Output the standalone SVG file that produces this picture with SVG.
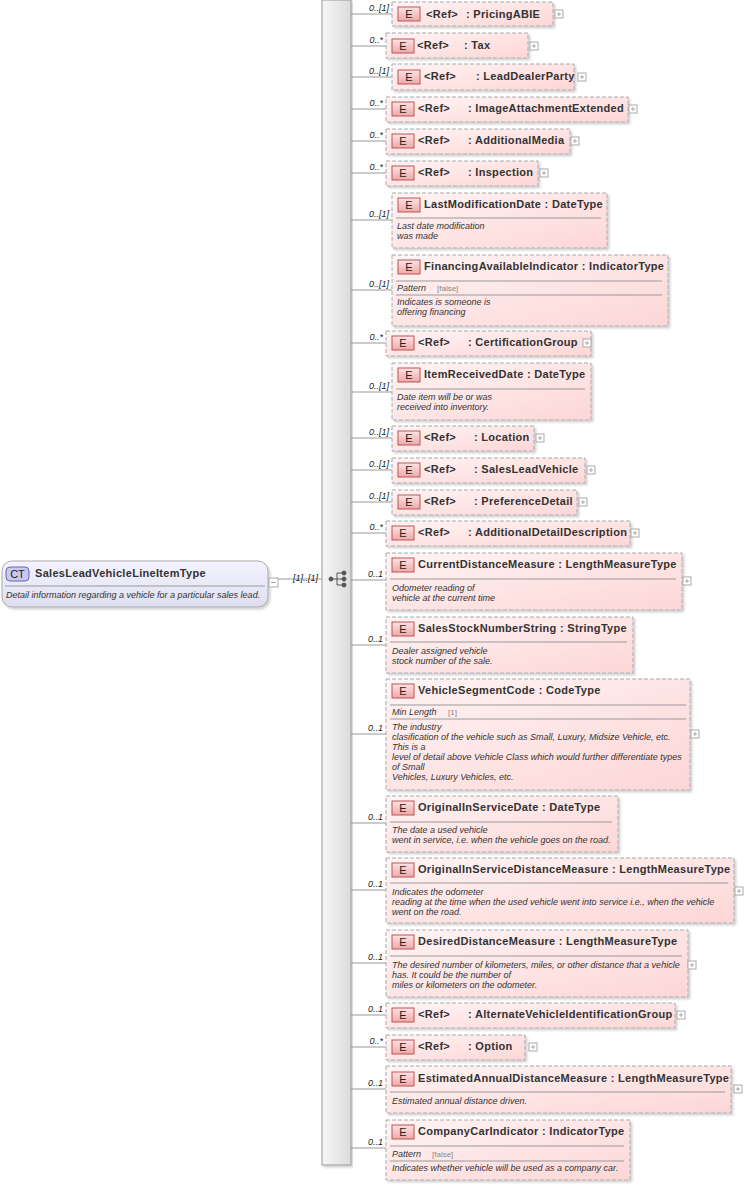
<svg xmlns="http://www.w3.org/2000/svg" width="744" height="1186" viewBox="0 0 744 1186">
<defs>
<linearGradient id="gE" x1="0" y1="0" x2="1" y2="1"><stop offset="0" stop-color="#fff4f4"/><stop offset="1" stop-color="#fdd6d6"/></linearGradient>
<linearGradient id="gB" x1="0" y1="0" x2="0" y2="1"><stop offset="0" stop-color="#fde3e3"/><stop offset="1" stop-color="#f0a8a8"/></linearGradient>
<linearGradient id="gCT" x1="0" y1="0" x2="0" y2="1"><stop offset="0" stop-color="#f4f4ff"/><stop offset="1" stop-color="#dedef0"/></linearGradient>
<linearGradient id="gBar" x1="0" y1="0" x2="1" y2="0"><stop offset="0" stop-color="#f6f6f6"/><stop offset="1" stop-color="#dcdcdc"/></linearGradient>
<filter id="sh" x="-5%" y="-5%" width="110%" height="120%"><feDropShadow dx="2" dy="2" stdDeviation="1.2" flood-color="#000" flood-opacity="0.18"/></filter>
</defs>
<style>
.box{fill:url(#gE);stroke:#aaa;stroke-dasharray:4 2;filter:url(#sh)}
.bad{fill:url(#gB);stroke:#b55}
.bt{font:11px "Liberation Sans",Arial,sans-serif;fill:#222;text-anchor:middle}
.nm{font:bold 11px "Liberation Sans",Arial,sans-serif;fill:#333;letter-spacing:0.3px}
.doc{font:italic 9px "Liberation Sans",Arial,sans-serif;fill:#333}
.fac{font:8px "Liberation Sans",Arial,sans-serif;fill:#888}
.mul{font:italic 9px "Liberation Sans",Arial,sans-serif;fill:#222;text-anchor:end}
.sep{stroke:#999;stroke-width:1}
.ln{stroke:#999;stroke-width:1;fill:none}
.pl{fill:#fff;stroke:#aaa}
.plc{stroke:#aaa}
</style>
<g id="bar"><rect x="322" y="0" width="29" height="1165" fill="url(#gBar)" stroke="#999" filter="url(#sh)"/></g>
<g id="connectors">
<line class="ln" x1="278" y1="579" x2="322" y2="579"/>
<text class="mul" x="318" y="581">[1]..[1]</text>
<g fill="#555" stroke="#555"><line x1="331" y1="579" x2="337" y2="579"/><line x1="337" y1="573" x2="337" y2="585"/><line x1="337" y1="573" x2="343" y2="573"/><line x1="337" y1="579" x2="343" y2="579"/><line x1="337" y1="585" x2="343" y2="585"/><circle cx="331" cy="579" r="2"/><circle cx="344" cy="573" r="2"/><circle cx="344" cy="579" r="2"/><circle cx="344" cy="585" r="2"/></g>
<path class="ln" d="M351 14H392M351 46H386M351 77H392M351 109H386M351 141H386M351 173H386M351 220H392M351 290H392M351 343H386M351 392H392M351 438H392M351 470H392M351 502H392M351 533H386M351 580H386M351 645H386M351 734H386M351 823H386M351 890H386M351 963H386M351 1015H386M351 1047H386M351 1089H386M351 1148H386"/>
<text class="mul" x="389" y="11">0..[1]</text>
<text class="mul" x="383" y="43">0..*</text>
<text class="mul" x="389" y="74">0..[1]</text>
<text class="mul" x="383" y="106">0..*</text>
<text class="mul" x="383" y="138">0..*</text>
<text class="mul" x="383" y="170">0..*</text>
<text class="mul" x="389" y="217">0..[1]</text>
<text class="mul" x="389" y="287">0..[1]</text>
<text class="mul" x="383" y="340">0..*</text>
<text class="mul" x="389" y="389">0..[1]</text>
<text class="mul" x="389" y="435">0..[1]</text>
<text class="mul" x="389" y="467">0..[1]</text>
<text class="mul" x="389" y="499">0..[1]</text>
<text class="mul" x="383" y="530">0..*</text>
<text class="mul" x="383" y="577">0..1</text>
<text class="mul" x="383" y="642">0..1</text>
<text class="mul" x="383" y="731">0..1</text>
<text class="mul" x="383" y="820">0..1</text>
<text class="mul" x="383" y="887">0..1</text>
<text class="mul" x="383" y="960">0..1</text>
<text class="mul" x="383" y="1012">0..1</text>
<text class="mul" x="383" y="1044">0..*</text>
<text class="mul" x="383" y="1086">0..1</text>
<text class="mul" x="383" y="1145">0..1</text>
</g>
<g id="root">
<rect x="2" y="561" width="266" height="46" rx="10" fill="url(#gCT)" stroke="#aaa" filter="url(#sh)"/>
<rect x="6" y="567" width="23" height="14" rx="4" fill="#c8c8f0" stroke="#66a"/>
<text class="bt" x="17.5" y="578" fill="#336">CT</text>
<text class="nm" x="35" y="577">SalesLeadVehicleLineItemType</text>
<line class="sep" x1="5" y1="586" x2="265" y2="586"/>
<text class="doc" x="6" y="598">Detail information regarding a vehicle for a particular sales lead.</text>
<rect x="269" y="578" width="9" height="9" class="pl"/><line class="plc" x1="271" y1="582.5" x2="276" y2="582.5"/>
</g>
<g id="n1"><rect class="box" x="392" y="2" width="161" height="24"/><rect class="bad" x="398" y="7" width="22" height="14"/><text class="bt" x="409" y="18">E</text><text class="nm" x="426" y="18">&lt;Ref&gt;</text><text class="nm" x="466" y="18">: PricingABIE</text><rect class="pl" x="555" y="10" width="8" height="8"/><path class="plc" d="M557 14h4M559 12v4"/></g>
<g id="n2"><rect class="box" x="386" y="33" width="142" height="25"/><rect class="bad" x="392" y="39" width="22" height="14"/><text class="bt" x="403" y="50">E</text><text class="nm" x="417" y="49">&lt;Ref&gt;</text><text class="nm" x="464" y="49">: Tax</text><rect class="pl" x="530" y="42" width="8" height="8"/><path class="plc" d="M532 46h4M534 44v4"/></g>
<g id="n3"><rect class="box" x="392" y="64" width="182" height="26"/><rect class="bad" x="398" y="70" width="22" height="14"/><text class="bt" x="409" y="81">E</text><text class="nm" x="424" y="80">&lt;Ref&gt;</text><text class="nm" x="476" y="80">: LeadDealerParty</text><rect class="pl" x="578" y="73" width="8" height="8"/><path class="plc" d="M580 77h4M582 75v4"/></g>
<g id="n4"><rect class="box" x="386" y="97" width="242" height="25"/><rect class="bad" x="392" y="102" width="22" height="14"/><text class="bt" x="403" y="113">E</text><text class="nm" x="418" y="112">&lt;Ref&gt;</text><text class="nm" x="468" y="112">: ImageAttachmentExtended</text><rect class="pl" x="629" y="105" width="8" height="8"/><path class="plc" d="M631 109h4M633 107v4"/></g>
<g id="n5"><rect class="box" x="386" y="129" width="184" height="25"/><rect class="bad" x="392" y="134" width="22" height="14"/><text class="bt" x="403" y="145">E</text><text class="nm" x="418" y="144">&lt;Ref&gt;</text><text class="nm" x="468" y="144">: AdditionalMedia</text><rect class="pl" x="571" y="137" width="8" height="8"/><path class="plc" d="M573 141h4M575 139v4"/></g>
<g id="n6"><rect class="box" x="386" y="161" width="152" height="25"/><rect class="bad" x="392" y="166" width="22" height="14"/><text class="bt" x="403" y="177">E</text><text class="nm" x="418" y="176">&lt;Ref&gt;</text><text class="nm" x="468" y="176">: Inspection</text><rect class="pl" x="540" y="169" width="8" height="8"/><path class="plc" d="M542 173h4M544 171v4"/></g>
<g id="n7"><rect class="box" x="392" y="193" width="215" height="55"/><rect class="bad" x="398" y="198" width="22" height="14"/><text class="bt" x="409" y="209">E</text><text class="nm" x="424" y="208">LastModificationDate : DateType</text><line class="sep" x1="396" y1="218" x2="601" y2="218"/><text class="doc" x="397" y="229">Last date modification</text><text class="doc" x="397" y="239">was made</text></g>
<g id="n8"><rect class="box" x="392" y="255" width="276" height="71"/><rect class="bad" x="398" y="260" width="22" height="14"/><text class="bt" x="409" y="271">E</text><text class="nm" x="424" y="270">FinancingAvailableIndicator : IndicatorType</text><line class="sep" x1="396" y1="281" x2="662" y2="281"/><text class="doc" x="397" y="291">Pattern</text><text class="fac" x="437" y="291">[false]</text><line class="sep" x1="396" y1="295" x2="662" y2="295"/><text class="doc" x="397" y="305">Indicates is someone is</text><text class="doc" x="397" y="315">offering financing</text></g>
<g id="n9"><rect class="box" x="386" y="331" width="205" height="25"/><rect class="bad" x="392" y="336" width="22" height="14"/><text class="bt" x="403" y="347">E</text><text class="nm" x="418" y="346">&lt;Ref&gt;</text><text class="nm" x="468" y="346">: CertificationGroup</text><rect class="pl" x="583" y="339" width="8" height="8"/><path class="plc" d="M585 343h4M587 341v4"/></g>
<g id="n10"><rect class="box" x="392" y="363" width="199" height="57"/><rect class="bad" x="398" y="368" width="22" height="14"/><text class="bt" x="409" y="379">E</text><text class="nm" x="424" y="378">ItemReceivedDate : DateType</text><line class="sep" x1="396" y1="389" x2="585" y2="389"/><text class="doc" x="397" y="400">Date item will be or was</text><text class="doc" x="397" y="410">received into inventory.</text></g>
<g id="n11"><rect class="box" x="392" y="426" width="142" height="25"/><rect class="bad" x="398" y="431" width="22" height="14"/><text class="bt" x="409" y="442">E</text><text class="nm" x="424" y="441">&lt;Ref&gt;</text><text class="nm" x="474" y="441">: Location</text><rect class="pl" x="536" y="434" width="8" height="8"/><path class="plc" d="M538 438h4M540 436v4"/></g>
<g id="n12"><rect class="box" x="392" y="458" width="193" height="25"/><rect class="bad" x="398" y="463" width="22" height="14"/><text class="bt" x="409" y="474">E</text><text class="nm" x="424" y="473">&lt;Ref&gt;</text><text class="nm" x="474" y="473">: SalesLeadVehicle</text><rect class="pl" x="587" y="466" width="8" height="8"/><path class="plc" d="M589 470h4M591 468v4"/></g>
<g id="n13"><rect class="box" x="392" y="490" width="185" height="25"/><rect class="bad" x="398" y="495" width="22" height="14"/><text class="bt" x="409" y="506">E</text><text class="nm" x="424" y="505">&lt;Ref&gt;</text><text class="nm" x="474" y="505">: PreferenceDetail</text><rect class="pl" x="579" y="498" width="8" height="8"/><path class="plc" d="M581 502h4M583 500v4"/></g>
<g id="n14"><rect class="box" x="386" y="521" width="244" height="25"/><rect class="bad" x="392" y="526" width="22" height="14"/><text class="bt" x="403" y="537">E</text><text class="nm" x="418" y="536">&lt;Ref&gt;</text><text class="nm" x="468" y="536">: AdditionalDetailDescription</text><rect class="pl" x="631" y="529" width="8" height="8"/><path class="plc" d="M633 533h4M635 531v4"/></g>
<g id="n15"><rect class="box" x="386" y="553" width="296" height="57"/><rect class="bad" x="392" y="558" width="22" height="14"/><text class="bt" x="403" y="569">E</text><text class="nm" x="418" y="568">CurrentDistanceMeasure : LengthMeasureType</text><line class="sep" x1="390" y1="579" x2="676" y2="579"/><text class="doc" x="392" y="591">Odometer reading of</text><text class="doc" x="392" y="601">vehicle at the current time</text><rect class="pl" x="683" y="577" width="8" height="8"/><path class="plc" d="M685 581h4M687 579v4"/></g>
<g id="n16"><rect class="box" x="386" y="617" width="247" height="56"/><rect class="bad" x="392" y="622" width="22" height="14"/><text class="bt" x="403" y="633">E</text><text class="nm" x="418" y="632">SalesStockNumberString : StringType</text><line class="sep" x1="390" y1="642" x2="627" y2="642"/><text class="doc" x="392" y="654">Dealer assigned vehicle</text><text class="doc" x="392" y="664">stock number of the sale.</text></g>
<g id="n17"><rect class="box" x="386" y="679" width="304" height="111"/><rect class="bad" x="392" y="684" width="22" height="14"/><text class="bt" x="403" y="695">E</text><text class="nm" x="418" y="694">VehicleSegmentCode : CodeType</text><line class="sep" x1="390" y1="705" x2="686" y2="705"/><text class="doc" x="392" y="715">Min Length</text><text class="fac" x="448" y="715">[1]</text><line class="sep" x1="390" y1="719" x2="686" y2="719"/><text class="doc" x="392" y="730">The industry</text><text class="doc" x="392" y="740">clasification of the vehicle such as Small, Luxury, Midsize Vehicle, etc.</text><text class="doc" x="392" y="750">This is a</text><text class="doc" x="392" y="760">level of detail above Vehicle Class which would further differentiate types</text><text class="doc" x="392" y="770">of Small</text><text class="doc" x="392" y="780">Vehicles, Luxury Vehicles, etc.</text><rect class="pl" x="691" y="730" width="8" height="8"/><path class="plc" d="M693 734h4M695 732v4"/></g>
<g id="n18"><rect class="box" x="386" y="796" width="232" height="56"/><rect class="bad" x="392" y="801" width="22" height="14"/><text class="bt" x="403" y="812">E</text><text class="nm" x="418" y="811">OriginalInServiceDate : DateType</text><line class="sep" x1="390" y1="822" x2="612" y2="822"/><text class="doc" x="392" y="833">The date a used vehicle</text><text class="doc" x="392" y="843">went in service, i.e. when the vehicle goes on the road.</text></g>
<g id="n19"><rect class="box" x="386" y="858" width="348" height="65"/><rect class="bad" x="392" y="863" width="22" height="14"/><text class="bt" x="403" y="874">E</text><text class="nm" x="418" y="873">OriginalInServiceDistanceMeasure : LengthMeasureType</text><line class="sep" x1="390" y1="883" x2="728" y2="883"/><text class="doc" x="392" y="895">Indicates the odometer</text><text class="doc" x="392" y="905">reading at the time when the used vehicle went into service i.e., when the vehicle</text><text class="doc" x="392" y="915">went on the road.</text><rect class="pl" x="735" y="887" width="8" height="8"/><path class="plc" d="M737 891h4M739 889v4"/></g>
<g id="n20"><rect class="box" x="386" y="930" width="302" height="67"/><rect class="bad" x="392" y="935" width="22" height="14"/><text class="bt" x="403" y="946">E</text><text class="nm" x="418" y="945">DesiredDistanceMeasure : LengthMeasureType</text><line class="sep" x1="390" y1="956" x2="682" y2="956"/><text class="doc" x="392" y="968">The desired number of kilometers, miles, or other distance that a vehicle</text><text class="doc" x="392" y="978">has.  It could be the number of</text><text class="doc" x="392" y="988">miles or kilometers on the odometer.</text><rect class="pl" x="688" y="961" width="8" height="8"/><path class="plc" d="M690 965h4M692 963v4"/></g>
<g id="n21"><rect class="box" x="386" y="1003" width="289" height="25"/><rect class="bad" x="392" y="1008" width="22" height="14"/><text class="bt" x="403" y="1019">E</text><text class="nm" x="418" y="1018">&lt;Ref&gt;</text><text class="nm" x="468" y="1018">: AlternateVehicleIdentificationGroup</text><rect class="pl" x="677" y="1011" width="8" height="8"/><path class="plc" d="M679 1015h4M681 1013v4"/></g>
<g id="n22"><rect class="box" x="386" y="1035" width="139" height="25"/><rect class="bad" x="392" y="1040" width="22" height="14"/><text class="bt" x="403" y="1051">E</text><text class="nm" x="418" y="1050">&lt;Ref&gt;</text><text class="nm" x="468" y="1050">: Option</text><rect class="pl" x="529" y="1043" width="8" height="8"/><path class="plc" d="M531 1047h4M533 1045v4"/></g>
<g id="n23"><rect class="box" x="386" y="1066" width="345" height="47"/><rect class="bad" x="392" y="1072" width="22" height="14"/><text class="bt" x="403" y="1083">E</text><text class="nm" x="418" y="1082">EstimatedAnnualDistanceMeasure : LengthMeasureType</text><line class="sep" x1="390" y1="1092" x2="725" y2="1092"/><text class="doc" x="392" y="1104">Estimated annual distance driven.</text><rect class="pl" x="734" y="1085" width="8" height="8"/><path class="plc" d="M736 1089h4M738 1087v4"/></g>
<g id="n24"><rect class="box" x="386" y="1120" width="244" height="60"/><rect class="bad" x="392" y="1125" width="22" height="14"/><text class="bt" x="403" y="1136">E</text><text class="nm" x="418" y="1135">CompanyCarIndicator : IndicatorType</text><line class="sep" x1="390" y1="1146" x2="624" y2="1146"/><text class="doc" x="392" y="1157">Pattern</text><text class="fac" x="432" y="1157">[false]</text><line class="sep" x1="390" y1="1161" x2="624" y2="1161"/><text class="doc" x="392" y="1171">Indicates whether vehicle will be used as a company car.</text></g>
</svg>
